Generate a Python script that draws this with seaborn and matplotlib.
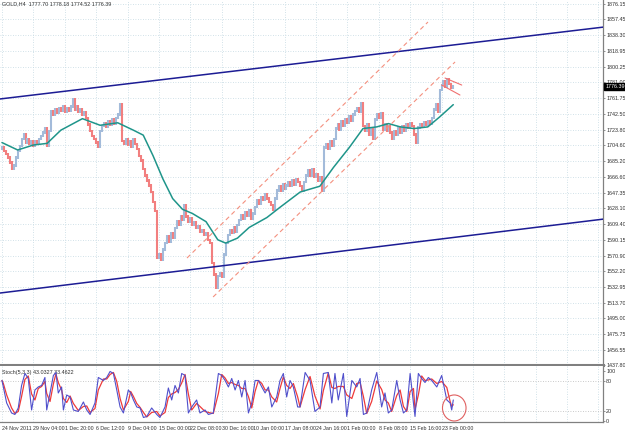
import numpy as np
import matplotlib
matplotlib.use("Agg")
import matplotlib.pyplot as plt
import seaborn as sns
from matplotlib.patches import Ellipse

sns.set_theme(style="white")
plt.rcParams["font.family"] = ["Liberation Sans", "DejaVu Sans"]
FS = 3.9

# H4 closes (one per bar, open = previous close)
first_open = 1700.0
closes = [
    1702, 1698, 1694, 1690, 1684, 1676, 1680, 1690, 1698, 1704,
    1712, 1718, 1708, 1712, 1706, 1709, 1704, 1710, 1707, 1712,
    1716, 1720, 1725, 1704, 1722, 1746, 1742, 1748, 1744, 1750,
    1746, 1752, 1745, 1750, 1747, 1752, 1760, 1748, 1752, 1745,
    1748, 1742, 1745, 1738, 1730, 1722, 1716, 1712, 1708, 1703,
    1722, 1728, 1732, 1727, 1734, 1730, 1736, 1731, 1738, 1742,
    1754, 1710, 1706, 1712, 1705, 1710, 1703, 1712, 1706, 1700,
    1692, 1686, 1676, 1668, 1662, 1656, 1648, 1636, 1625, 1568,
    1572, 1566, 1578, 1586, 1594, 1588, 1598, 1592, 1604, 1612,
    1608, 1618, 1614, 1632, 1618, 1612, 1616, 1608, 1611, 1604,
    1606, 1600, 1602, 1596, 1598, 1590, 1586, 1562, 1548, 1532,
    1546, 1550, 1545, 1572, 1586, 1596, 1602, 1598, 1605, 1600,
    1608, 1614, 1620, 1616, 1624, 1619, 1626, 1616, 1622, 1630,
    1638, 1634, 1642, 1638, 1645, 1640, 1636, 1632, 1627, 1640,
    1650, 1655, 1650, 1658, 1652, 1656, 1660, 1655, 1662, 1657,
    1664, 1660, 1655, 1650, 1660, 1668, 1675, 1668, 1676, 1666,
    1670, 1662, 1666, 1650, 1702, 1706, 1700, 1710, 1704, 1712,
    1725, 1730, 1724, 1734, 1728, 1736, 1732, 1740, 1735, 1742,
    1746, 1750, 1745, 1756, 1728, 1722, 1730, 1718, 1725, 1712,
    1736, 1742, 1738, 1744, 1724, 1730, 1722, 1728, 1720, 1712,
    1722, 1718, 1726, 1720, 1728, 1722, 1730, 1726, 1732, 1728,
    1718, 1708, 1726, 1730, 1727, 1733, 1729, 1734, 1731, 1738,
    1748, 1755, 1745, 1772, 1778, 1782, 1776, 1785, 1779, 1774,
    1776.39,
]

# moving average (teal), read at a few bars
ma_bar = [0, 8, 16, 23, 30, 41, 50, 59, 67, 72, 77, 82, 87, 92, 97, 104, 110,
          114, 120, 126, 135, 142, 152, 162, 169, 177, 184, 191, 197, 203,
          210, 217, 223, 230]
ma_price = [1708, 1699, 1705, 1707, 1723, 1737, 1729, 1732, 1723, 1717, 1692,
            1664, 1640, 1627, 1622, 1612, 1590, 1586, 1592, 1605, 1617, 1630,
            1648, 1655, 1678, 1702, 1725, 1727, 1731, 1727, 1725, 1727, 1739,
            1754]

# Stochastic (5,3,3)
stoch_bar = [
    0, 0.7, 2.4, 4.9, 6.6, 8.3, 10.0, 11.7, 13.4, 15.1,
    16.8, 18.5, 20.2, 21.9, 22.8, 24.5, 26.2, 27.5, 28.7, 30.4,
    31.3, 33.0, 34.7, 36.4, 38.9, 41.5, 43.2, 44.9, 47.4, 49.1,
    51.7, 53.4, 55.1, 56.8, 58.5, 60.2, 61.9, 64.4, 65.6, 67.0,
    68.7, 70.4, 72.1, 73.8, 76.3, 78.9, 80.5, 83.1, 84.8, 86.5,
    88.2, 89.9, 91.6, 93.3, 95.0, 96.7, 99.2, 100.9, 103.5, 105.2,
    107.7, 110.3, 112.0, 113.7, 115.4, 117.1, 118.8, 120.5, 122.2, 123.9,
    125.6, 127.3, 129.0, 130.7, 132.4, 134.1, 135.8, 137.5, 140.0, 141.7,
    143.4, 145.1, 146.8, 148.5, 150.7,
    151.9, 154.5, 157.0, 159.5, 162.1, 163.8, 166.3, 168.1, 169.7, 171.4,
    174.0, 175.7, 178.3, 180.8, 182.5, 184.2, 185.9, 188.4, 191.0, 193.5,
    195.2, 196.9, 198.6, 201.2, 202.9, 204.6, 206.3, 208.0, 209.7, 210.5,
    212.2, 213.9, 215.6, 217.3, 219.0, 221.6, 224.1, 226.7, 228.4, 229.2,
    230.0,
]
stoch_main = [
    82, 69, 37, 17, 14, 27, 72, 96, 86, 23, 63, 69, 72, 88, 23, 57, 92, 98, 57, 69,
    23, 53, 49, 23, 20, 39, 23, 14, 37, 88, 82, 88, 100, 96, 63, 29, 17, 63, 57, 43,
    29, 27, 8, 10, 27, 14, 8, 29, 67, 43, 72, 57, 96, 92, 17, 29, 43, 17, 23, 14,
    17, 96, 92, 82, 69, 86, 63, 82, 49, 82, 17, 37, 82, 82, 69, 57, 69, 29, 49, 82,
    96, 49, 82, 69, 29,
    29, 98, 82, 20, 29, 96, 98, 37, 96, 43, 96, 10, 82, 69, 86, 14, 17, 63, 98, 29,
    57, 17, 23, 82, 43, 17, 23, 96, 37, 10, 96, 86, 78, 88, 82, 69, 92, 43, 37, 23,
    43.03,
]
stoch_signal = [
    82, 76, 53, 27, 16, 20, 50, 84, 91, 55, 43, 66, 70, 80, 56, 40, 75, 95, 78, 63,
    46, 38, 51, 36, 22, 30, 31, 18, 26, 63, 85, 85, 94, 98, 80, 46, 23, 40, 60, 50,
    36, 28, 18, 9, 18, 20, 11, 18, 48, 55, 58, 64, 77, 94, 55, 23, 36, 30, 20, 18,
    16, 56, 94, 87, 76, 78, 74, 72, 66, 66, 50, 27, 60, 82, 76, 63, 63, 49, 39, 66,
    89, 72, 66, 76, 49,
    29, 64, 90, 51, 25, 62, 97, 68, 66, 70, 70, 53, 46, 76, 78, 50, 16, 40, 81, 64,
    43, 37, 20, 52, 63, 30, 20, 60, 66, 24, 53, 91, 82, 83, 85, 76, 80, 68, 40, 30,
    33.46,
]

price_ticks = [1876.15, 1857.45, 1838.30, 1818.95, 1800.25, 1781.00, 1761.75,
               1742.50, 1723.80, 1704.60, 1685.20, 1666.60, 1647.35, 1628.10,
               1609.40, 1590.15, 1570.90, 1552.20, 1532.95, 1513.70, 1495.00,
               1475.75, 1456.55, 1437.80]
date_ticks = list(range(0, 305, 16))
date_labels = ["24 Nov 2011", "29 Nov 04:00", "1 Dec 20:00", "6 Dec 12:00",
               "9 Dec 04:00", "15 Dec 00:00", "22 Dec 08:00", "30 Dec 16:00",
               "10 Jan 00:00", "17 Jan 08:00", "24 Jan 16:00", "1 Feb 00:00",
               "8 Feb 08:00", "15 Feb 16:00", "23 Feb 00:00"]

# drawn objects: (bar, price) anchor pairs
channel_upper = ([-1, 306.8], [1760.9, 1848.2])
channel_lower = ([-1, 306.8], [1525.4, 1615.2])
trend_upper = ([94.3, 217.1], [1567.9, 1854.3])
trend_lower = ([107.6, 230.9], [1520.6, 1805.8])
wedge_upper = ([225.8, 234.3], [1786.3, 1777.8])
wedge_lower = ([224.1, 233.4], [1777.8, 1765.7])

UP = "#a3bbda"
DOWN = "#f27f7f"
GRID = "#c3d8e2"
AXCOL = "#808080"
TXT = "#303030"

fig = plt.figure(figsize=(6.25, 4.34), dpi=100, facecolor="white")
ax = fig.add_axes([0.0, 0.1585, 603 / 625, 0.8415])
ax2 = fig.add_axes([0.0, 0.0277, 603 / 625, 0.1279], sharex=ax)

for a in (ax, ax2):
    a.set_facecolor("white")
    for s in a.spines.values():
        s.set_visible(False)
    a.spines["right"].set_visible(True)
    a.spines["right"].set_color(AXCOL)
    a.spines["right"].set_linewidth(0.9)
    a.yaxis.tick_right()
    a.set_xticks(date_ticks)
    a.grid(True, color=GRID, linestyle=(0, (1, 2)), linewidth=0.6)
    a.set_axisbelow(True)

ax.spines["bottom"].set_visible(True)
ax.spines["bottom"].set_color(AXCOL)
ax.spines["bottom"].set_linewidth(2.2)
ax2.spines["bottom"].set_visible(True)
ax2.spines["bottom"].set_color(AXCOL)
ax2.spines["bottom"].set_linewidth(0.9)

# price bars
idx = np.arange(len(closes))
cl = np.array(closes, dtype=float)
op = np.concatenate([[first_open], cl[:-1]])
cols = np.where(cl >= op, UP, DOWN)
ax.vlines(idx, np.minimum(op, cl) - 1.5, np.maximum(op, cl) + 1.5, colors=cols,
          linewidth=1.5, zorder=3)

sns.lineplot(x=ma_bar, y=ma_price, ax=ax, color="#1f958a", linewidth=1.1,
             zorder=4, estimator=None)

ax.plot(*channel_upper, color="#1c1c94", linewidth=1.1, zorder=5)
ax.plot(*channel_lower, color="#1c1c94", linewidth=1.1, zorder=5)
for ln in (trend_upper, trend_lower):
    ax.plot(*ln, color="#f4907f", linewidth=0.8, linestyle=(0, (4, 3)), zorder=5)
for ln in (wedge_upper, wedge_lower):
    ax.plot(*ln, color="#f07070", linewidth=0.8, zorder=5)

ax.set_xlim(-1, 306.3)
ax.set_ylim(1437.8, 1881.0)
ax.set_yticks(price_ticks)
ax.set_yticklabels([f"{p:.2f}" for p in price_ticks])
ax.tick_params(axis="y", labelsize=FS, colors=TXT, length=1.5, width=0.6,
               pad=0.8, direction="out")
ax.tick_params(axis="y", color=AXCOL)
ax.tick_params(axis="x", labelbottom=False, length=0)

ax.text(0.004, 0.996, "GOLD,H4  1777.70 1778.18 1774.52 1776.39",
        transform=ax.transAxes, ha="left", va="top", fontsize=FS, color=TXT)
ax.text(1.0035, 1776.39, "1776.39", transform=ax.get_yaxis_transform(),
        ha="left", va="center", fontsize=FS, color="white", zorder=10,
        clip_on=False,
        bbox=dict(boxstyle="square,pad=0.15", facecolor="black",
                  edgecolor="black"))

# stochastic window
sns.lineplot(x=stoch_bar, y=stoch_signal, ax=ax2, color="#ee3a3a",
             linewidth=0.9, estimator=None, zorder=3)
sns.lineplot(x=stoch_bar, y=stoch_main, ax=ax2, color="#5050cc",
             linewidth=0.8, estimator=None, zorder=4)
ax2.set_ylim(-1, 110)
ax2.set_yticks([0, 20, 80, 100])
ax2.set_yticklabels(["0", "20", "80", "100"])
ax2.yaxis.grid(False)
for lvl in (20, 80):
    ax2.axhline(lvl, color="#b8b8b8", linestyle=(0, (1, 2)), linewidth=0.6,
                zorder=1)
ax2.tick_params(axis="y", labelsize=FS, colors=TXT, length=1.5, width=0.6,
                pad=0.8)
ax2.tick_params(axis="y", color=AXCOL)
ax2.set_xticklabels(date_labels + [""] * (len(date_ticks) - len(date_labels)),
                    ha="left")
ax2.tick_params(axis="x", labelsize=3.8, colors=TXT, length=2, width=0.6,
                pad=1.0)
ax2.tick_params(axis="x", color=AXCOL)
ax2.set_xlabel("")
ax2.set_ylabel("")
ax.set_xlabel("")
ax.set_ylabel("")

ax2.text(0.004, 0.93, "Stoch(5,3,3) 43.0327 33.4622", transform=ax2.transAxes,
         ha="left", va="top", fontsize=FS, color=TXT)
ax2.add_patch(Ellipse((230.5, 27), width=12, height=52, fill=False,
                      edgecolor="#e06060", linewidth=0.8, clip_on=False,
                      zorder=6))

fig.savefig("out.png", dpi=100, facecolor="white")
